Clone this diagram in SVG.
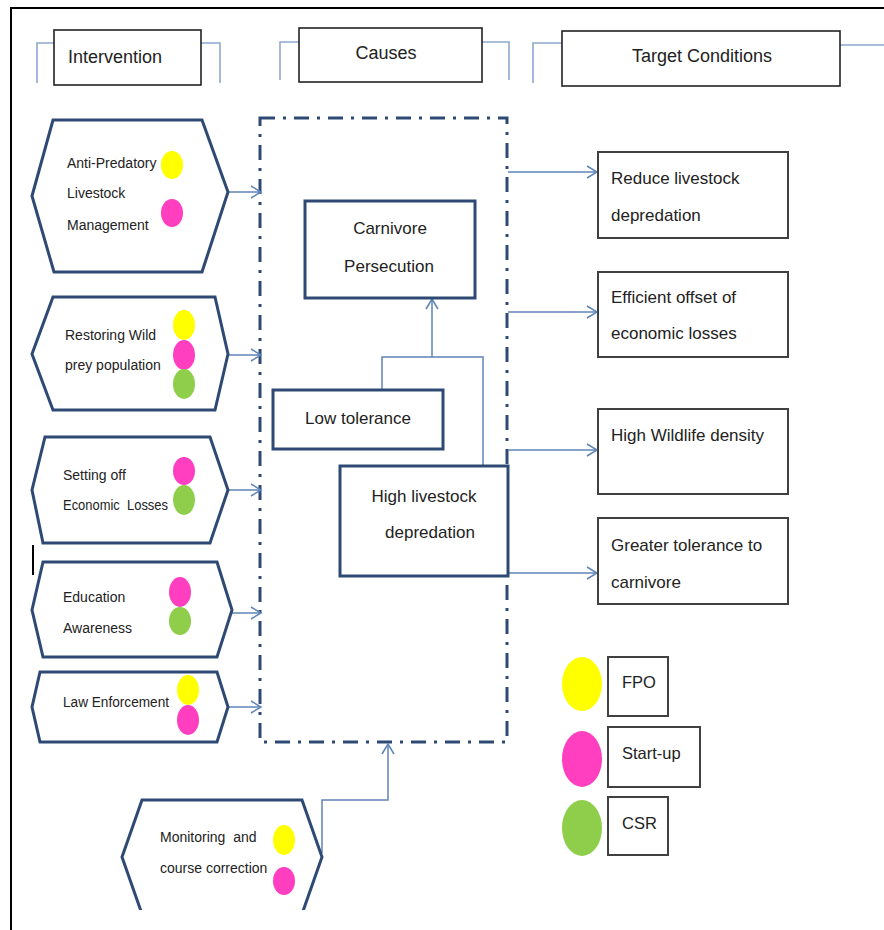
<svg xmlns="http://www.w3.org/2000/svg" width="884" height="930" viewBox="0 0 884 930">
<defs>
<style>
text{font-family:"Liberation Sans",Arial,sans-serif;fill:#222}
.hdr{font-size:18px}
.hx{font-size:14px}
.cz{font-size:17px}
.tg{font-size:17px}
.lg{font-size:16.5px}
.hexs{fill:#fff;stroke:#2e4a74;stroke-width:3;stroke-linejoin:miter}
.cbox{fill:#fff;stroke:#2e4a74;stroke-width:3}
.tbox{fill:#fff;stroke:#404040;stroke-width:2}
.hbox{fill:#fff;stroke:#222;stroke-width:1.6}
.brk{fill:none;stroke:#8ea9cf;stroke-width:1.6}
.conn{fill:none;stroke:#5f84b8;stroke-width:1.5}
.y{fill:#ffff00}.p{fill:#ff3fc0}.g{fill:#8fce4a}
</style>
<marker id="ah" markerUnits="userSpaceOnUse" markerWidth="14" markerHeight="14" refX="11" refY="7" orient="auto">
<path d="M1,1 L11,7 L1,13" fill="none" stroke="#5f84b8" stroke-width="1.5"/>
</marker>
<clipPath id="cut"><rect x="0" y="0" width="884" height="910"/></clipPath>
</defs>
<rect width="884" height="930" fill="#fff"/>
<path d="M11,930 V8 H884" fill="none" stroke="#000" stroke-width="2"/>
<path d="M33,545 V575" stroke="#000" stroke-width="2"/>

<g id="hdr-intervention">
<path class="brk" d="M37,83 V43 H54 M201,43 H220 V83"/>
<rect class="hbox" x="54" y="30" width="147" height="55"/>
<text class="hdr" x="68" y="63">Intervention</text>
</g>
<g id="hdr-causes">
<path class="brk" d="M280,80 V42 H299 M482,42 H509 V80"/>
<rect class="hbox" x="299" y="28" width="183" height="54"/>
<text class="hdr" x="386" y="59" text-anchor="middle">Causes</text>
</g>
<g id="hdr-target">
<path class="brk" d="M533,83 V43 H562 M840,45 H884"/>
<rect class="hbox" x="562" y="31" width="278" height="55"/>
<text class="hdr" x="702" y="62" text-anchor="middle">Target Conditions</text>
</g>

<g id="causes-frame">
<rect x="260" y="118" width="247" height="624" fill="none" stroke="#2e4a74" stroke-width="3" stroke-dasharray="15 8 3 8"/>
</g>

<g id="connectors">
<path class="conn" d="M228,192 H261" marker-end="url(#ah)"/>
<path class="conn" d="M228,355 H261" marker-end="url(#ah)"/>
<path class="conn" d="M228,490 H261" marker-end="url(#ah)"/>
<path class="conn" d="M232,613 H261" marker-end="url(#ah)"/>
<path class="conn" d="M228,707 H261" marker-end="url(#ah)"/>
<path class="conn" d="M322,853 V800 H388 V744" marker-end="url(#ah)"/>
<path class="conn" d="M382,390 V357 H483 V466"/>
<path class="conn" d="M432,357 V299" marker-end="url(#ah)"/>
<path class="conn" d="M508,172 H597" marker-end="url(#ah)"/>
<path class="conn" d="M508,312 H597" marker-end="url(#ah)"/>
<path class="conn" d="M508,450 H597" marker-end="url(#ah)"/>
<path class="conn" d="M508,573 H597" marker-end="url(#ah)"/>
</g>

<g id="int-antipredatory">
<polygon class="hexs" points="32,196 53,120 202,120 228,192 202,272 54,272"/>
<text class="hx" x="67" y="168">Anti-Predatory</text>
<text class="hx" x="67" y="198">Livestock</text>
<text class="hx" x="67" y="230">Management</text>
<ellipse class="y" cx="172" cy="165" rx="11" ry="14"/>
<ellipse class="p" cx="172" cy="213" rx="11" ry="14"/>
</g>
<g id="int-restoring">
<polygon class="hexs" points="32,354 53,297 215,297 228,354 215,410 53,410"/>
<text class="hx" x="65" y="340">Restoring Wild</text>
<text class="hx" x="65" y="370">prey population</text>
<ellipse class="y" cx="184" cy="325" rx="11" ry="15"/>
<ellipse class="p" cx="184" cy="355" rx="11" ry="15"/>
<ellipse class="g" cx="184" cy="384" rx="11" ry="15"/>
</g>
<g id="int-setting">
<polygon class="hexs" points="32,490 45,437 210,437 228,490 210,543 43,543"/>
<text class="hx" x="63" y="480">Setting off</text>
<text class="hx" x="63" y="510" xml:space="preserve" textLength="105" lengthAdjust="spacingAndGlyphs">Economic  Losses</text>
<ellipse class="p" cx="184" cy="471" rx="11" ry="14"/>
<ellipse class="g" cx="184" cy="500" rx="11" ry="15"/>
</g>
<g id="int-education">
<polygon class="hexs" points="32,610 43,562 217,562 232,610 217,657 43,657"/>
<text class="hx" x="63" y="602">Education</text>
<text class="hx" x="63" y="633">Awareness</text>
<ellipse class="p" cx="180" cy="592" rx="11" ry="15"/>
<ellipse class="g" cx="180" cy="621" rx="11" ry="14"/>
</g>
<g id="int-law">
<polygon class="hexs" points="32,707 40,672 217,672 228,707 217,742 40,742"/>
<text class="hx" x="63" y="707" textLength="106" lengthAdjust="spacingAndGlyphs">Law Enforcement</text>
<ellipse class="y" cx="188" cy="690" rx="11" ry="15"/>
<ellipse class="p" cx="188" cy="720" rx="11" ry="15"/>
</g>
<g id="int-monitoring" clip-path="url(#cut)">
<polygon class="hexs" points="122,857 142,800 302,800 322,857 302,914 142,914"/>
<text class="hx" x="160" y="842" xml:space="preserve">Monitoring  and</text>
<text class="hx" x="160" y="873">course correction</text>
<ellipse class="y" cx="284" cy="840" rx="11" ry="15"/>
<ellipse class="p" cx="284" cy="881" rx="11" ry="14"/>
</g>

<g id="cause-carnivore">
<rect class="cbox" x="305" y="201" width="170" height="97"/>
<text class="cz" x="390" y="234" text-anchor="middle">Carnivore</text>
<text class="cz" x="389" y="272" text-anchor="middle">Persecution</text>
</g>
<g id="cause-lowtol">
<rect class="cbox" x="273" y="390" width="170" height="59"/>
<text class="cz" x="358" y="424" text-anchor="middle">Low tolerance</text>
</g>
<g id="cause-highdep">
<rect class="cbox" x="340" y="466" width="168" height="110"/>
<text class="cz" x="424" y="502" text-anchor="middle">High livestock</text>
<text class="cz" x="430" y="538" text-anchor="middle">depredation</text>
</g>

<g id="tgt-reduce">
<rect class="tbox" x="598" y="152" width="190" height="86"/>
<text class="tg" x="611" y="184">Reduce livestock</text>
<text class="tg" x="611" y="221">depredation</text>
</g>
<g id="tgt-efficient">
<rect class="tbox" x="598" y="272" width="190" height="85"/>
<text class="tg" x="611" y="303">Efficient offset of</text>
<text class="tg" x="611" y="339">economic losses</text>
</g>
<g id="tgt-wildlife">
<rect class="tbox" x="598" y="409" width="190" height="85"/>
<text class="tg" x="611" y="441">High Wildlife density</text>
</g>
<g id="tgt-tolerance">
<rect class="tbox" x="598" y="518" width="190" height="86"/>
<text class="tg" x="611" y="551">Greater tolerance to</text>
<text class="tg" x="611" y="588">carnivore</text>
</g>

<g id="legend-fpo">
<ellipse class="y" cx="582" cy="684" rx="20" ry="27"/>
<rect class="tbox" x="608" y="657" width="60" height="59" stroke-width="1.6"/>
<text class="lg" x="622" y="688">FPO</text>
</g>
<g id="legend-startup">
<ellipse class="p" cx="582" cy="759" rx="20" ry="28"/>
<rect class="tbox" x="608" y="727" width="92" height="60" stroke-width="1.6"/>
<text class="lg" x="622" y="759">Start-up</text>
</g>
<g id="legend-csr">
<ellipse class="g" cx="582" cy="828" rx="20" ry="28"/>
<rect class="tbox" x="608" y="797" width="60" height="58" stroke-width="1.6"/>
<text class="lg" x="622" y="829">CSR</text>
</g>
</svg>
